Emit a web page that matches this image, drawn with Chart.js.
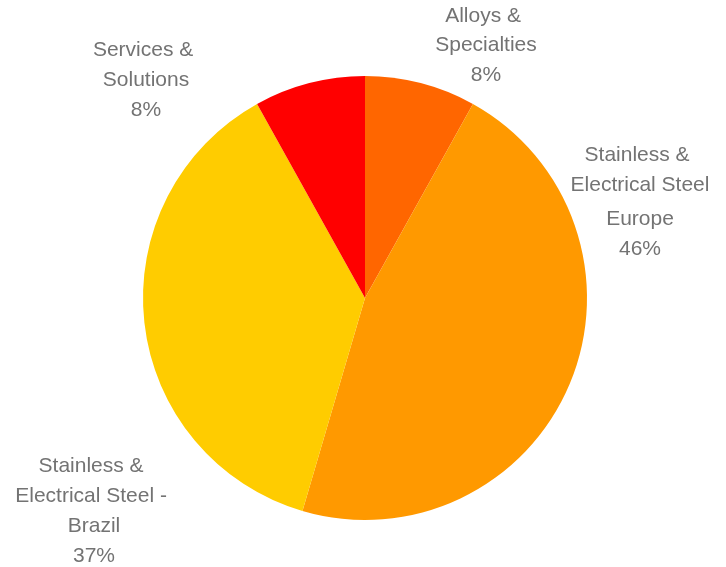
<!DOCTYPE html>
<html>
<head>
<meta charset="utf-8">
<script src="https://cdn.jsdelivr.net/npm/chart.js@4/dist/chart.umd.min.js"></script>
<style>
  html, body { margin: 0; padding: 0; background: #fff; }
  #wrap { width: 726px; height: 567px; position: relative; }
</style>
</head>
<body>
<div id="wrap"><canvas id="myChart" width="726" height="567"></canvas></div>
<script>
// segment names, shares (%) and fills, clockwise from 12 o'clock
const segments = ['Alloys & Specialties', 'Stainless & Electrical Steel Europe', 'Stainless & Electrical Steel - Brazil', 'Services & Solutions'];
const shares = [8, 46, 37, 8];
const colors = ['#FF6600', '#FF9900', '#FFCC00', '#FF0000'];
// wrapped label lines (value line is added from shares)
const labelLines = [
    ['Alloys & ', 'Specialties'],
    ['Stainless & ', 'Electrical Steel', 'Europe'],
    ['Stainless & ', 'Electrical Steel - ', 'Brazil'],
    ['Services & ', 'Solutions']
];

// label anchor (centre of first line) relative to pie centre, plus line gaps
const labelPos = [
    { dx: 121, dy: -282, gaps: [29, 30] },
    { dx: 275, dy: -143, gaps: [30, 34, 30] },
    { dx: -271, dy: 168, gaps: [30, 30, 30] },
    { dx: -219, dy: -248, gaps: [30, 30] }
];

const outsideLabels = {
    id: 'outsideLabels',
    afterDatasetsDraw(chart) {
        const ctx = chart.ctx;
        const arc = chart.getDatasetMeta(0).data[0];
        const cx = arc.x, cy = arc.y;
        ctx.save();
        ctx.font = '21px "Liberation Sans", Arial, sans-serif';
        ctx.fillStyle = '#737373';
        ctx.textAlign = 'center';
        ctx.textBaseline = 'middle';
        labelLines.forEach(function (lines, i) {
            const p = labelPos[i];
            const all = lines.concat([shares[i] + '%']);
            let y = cy + p.dy;
            all.forEach(function (t, k) {
                ctx.fillText(t, cx + p.dx, y);
                y += p.gaps[k] || 30;
            });
        });
        ctx.restore();
    }
};

var ctx = document.getElementById('myChart').getContext('2d');
var myChart = new Chart(ctx, {
    type: 'pie',
    data: {
        labels: segments,
        datasets: [{
            data: shares,
            backgroundColor: colors,
            borderWidth: 0
        }]
    },
    options: {
        responsive: false,
        animation: false,
        layout: { padding: { top: 76, bottom: 47, left: 143, right: 139 } },
        plugins: {
            legend: { display: false },
            tooltip: { enabled: false }
        }
    },
    plugins: [outsideLabels]
});
</script>
</body>
</html>
